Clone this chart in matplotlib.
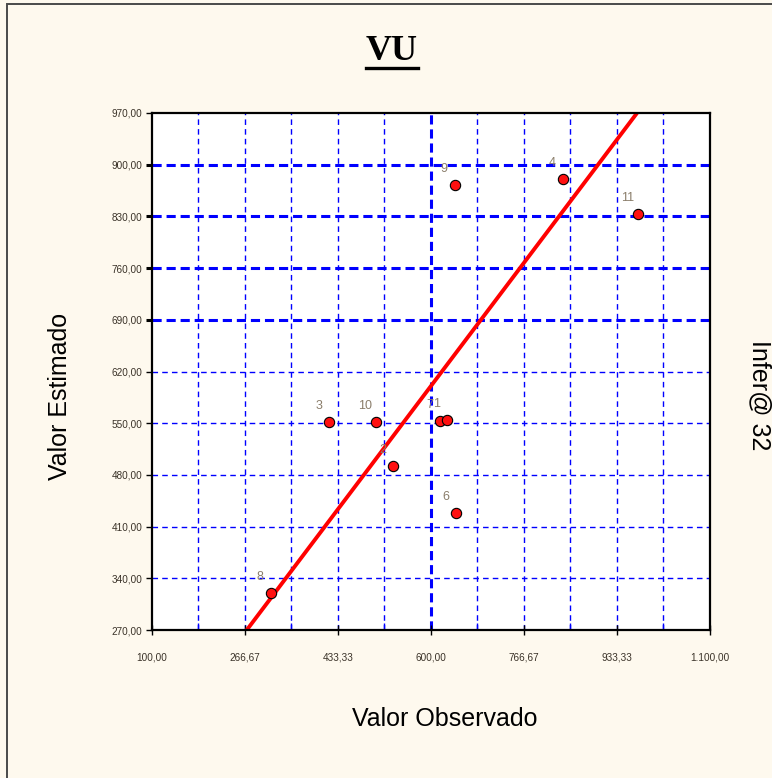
import numpy as np
import matplotlib
matplotlib.use("Agg")
import matplotlib.pyplot as plt
from matplotlib.lines import Line2D
from matplotlib.patches import Rectangle

# ---- data ----
obs_values = [313, 418, 501, 533, 617, 629, 645, 643, 837, 972]
est_values = [320, 552, 552, 492, 553, 555, 429, 872, 880, 833]
point_labels = ["8", "3", "10", "2", "7", "1", "6", "9", "4", "11"]
x_tick_values = [100, 266.67, 433.33, 600, 766.67, 933.33, 1100]
x_tick_labels = ["100,00", "266,67", "433,33", "600,00", "766,67", "933,33", "1.100,00"]
y_tick_values = [270, 340, 410, 480, 550, 620, 690, 760, 830, 900, 970]
y_tick_labels = ["270,00", "340,00", "410,00", "480,00", "550,00", "620,00",
                 "690,00", "760,00", "830,00", "900,00", "970,00"]
bold_h_grid = [690, 760, 830, 900]
bold_v_grid = [600]
x_min, x_max = 100, 1100
y_min, y_max = 270, 970

W, H = 772, 778
DPI = 100
BG = "#fef9ee"
TXT = "#3a3228"
fig = plt.figure(figsize=(W / DPI, H / DPI), dpi=DPI, facecolor=BG)
ax = fig.add_axes([152 / W, 1 - 630 / H, (709.5 - 152) / W, (630 - 113) / H])
ax.set_facecolor("white")
ax.set_xlim(x_min, x_max)
ax.set_ylim(y_min, y_max)

# grid
x_grid = np.linspace(x_min, x_max, 13)[1:-1]
for gx in x_grid:
    bold = any(abs(gx - b) < 1 for b in bold_v_grid)
    ax.axvline(gx, color="#0000ff", lw=2.2 if bold else 1.0,
               dashes=(3, 1.6) if bold else (4, 3), zorder=1)
for gy in y_tick_values[1:-1]:
    bold = gy in bold_h_grid
    ax.axhline(gy, color="#0000ff", lw=2.2 if bold else 1.0,
               dashes=(3, 1.6) if bold else (4, 3), zorder=1)

# identity line
ax.plot([y_min, y_max], [y_min, y_max], color="#ff0000", lw=2.8, zorder=3,
        solid_capstyle="butt")

# points
ax.scatter(obs_values, est_values, s=55, color="#ff1010", edgecolors="black",
           linewidths=0.8, zorder=4)
for xv, yv, lab in zip(obs_values, est_values, point_labels):
    ax.annotate(lab, (xv, yv), xytext=(-7.5, 11.5), textcoords="offset points",
                ha="center", va="center", fontsize=9, color="#8a7d6a",
                family="Liberation Sans", zorder=5)

# spines
for s in ax.spines.values():
    s.set_linewidth(1.6)
    s.set_color("black")
    s.set_zorder(6)

# y ticks
ax.set_yticks(y_tick_values)
ax.set_yticklabels(y_tick_labels, fontsize=7.2, family="Liberation Sans",
                   color=TXT)
ax.tick_params(axis="y", direction="out", length=4, width=1, pad=3, colors="black")
for lab in ax.get_yticklabels():
    lab.set_color(TXT)
for tick, val in zip(ax.yaxis.get_major_ticks(), y_tick_values):
    if val in bold_h_grid:
        tick.tick1line.set_markeredgewidth(2.2)

# x ticks
ax.set_xticks(x_tick_values)
ax.set_xticklabels(x_tick_labels, fontsize=7.2, family="Liberation Sans")
ax.tick_params(axis="x", direction="inout", length=7, width=1, colors="black",
               pad=13)
for lab in ax.get_xticklabels():
    lab.set_color(TXT)
ax.set_xticks(np.linspace(x_min, x_max, 13)[1::2], minor=True)
ax.tick_params(axis="x", which="minor", direction="in", length=5, width=1,
               colors="#0000ff")

# titles and axis labels
fig.text(392 / W, 1 - 51 / H, "VU", ha="center", va="center", fontsize=26,
         fontweight="bold", family="Liberation Serif", color="black")
fig.add_artist(Line2D([366 / W, 418 / W], [1 - 68 / H, 1 - 68 / H],
                      color="black", lw=2.4, transform=fig.transFigure))
fig.text(445 / W, 1 - 719 / H, "Valor Observado", ha="center", va="center",
         fontsize=18, family="Liberation Sans", color="black")
fig.text(60 / W, 1 - 396 / H, "Valor Estimado", ha="center", va="center",
         fontsize=18, family="Liberation Sans", color="black", rotation=90)
fig.text(760 / W, 1 - 395 / H, "Infer@ 32", ha="center", va="center",
         fontsize=18, family="Liberation Sans", color="black", rotation=-90)

# outer frame (left and top edges visible)
fig.add_artist(Rectangle((7 / W, -0.05), 1.2, 1 - 4 / H + 0.05,
                         transform=fig.transFigure, fill=False,
                         edgecolor="#4a4a4a", lw=1.4))

fig.savefig("out.png", dpi=DPI, facecolor=BG)
